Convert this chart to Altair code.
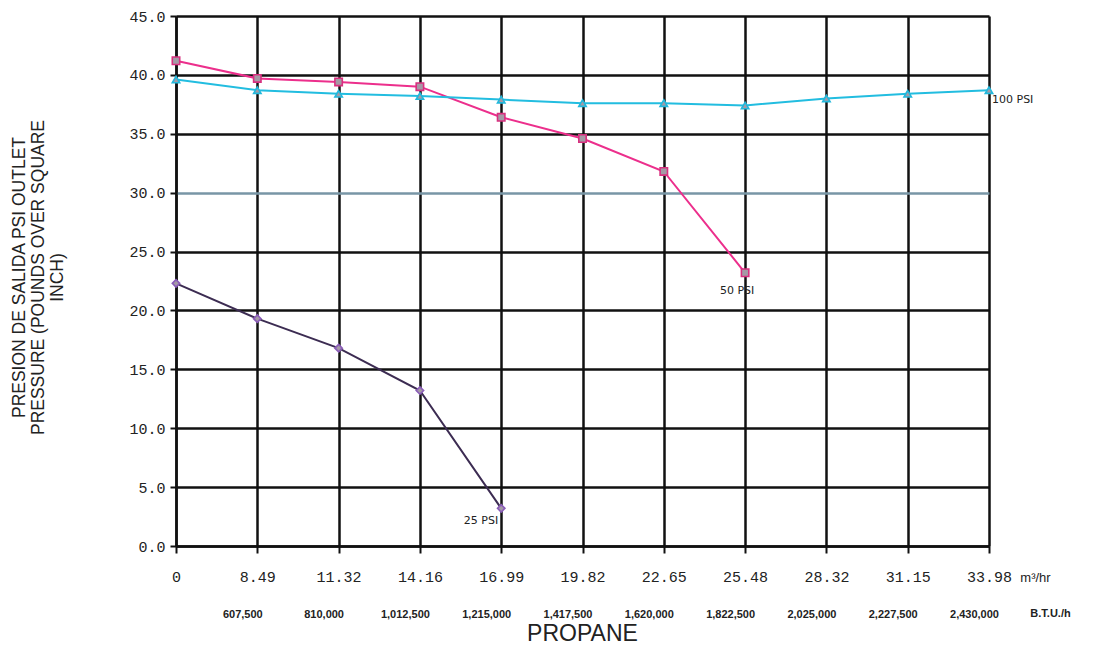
import json
import altair as alt
import pandas as pd

# ---- data ----
x_labels = ["0", "8.49", "11.32", "14.16", "16.99", "19.82", "22.65", "25.48", "28.32", "31.15", "33.98"]
btu_labels = ["", "607,500", "810,000", "1,012,500", "1,215,000", "1,417,500",
              "1,620,000", "1,822,500", "2,025,000", "2,227,500", "2,430,000"]
series_names = ["25 PSI", "50 PSI", "100 PSI"]
psi25 = [22.3, 19.3, 16.8, 13.2, 3.2]
psi50 = [41.2, 39.7, 39.4, 39.0, 36.4, 34.6, 31.8, 23.2]
psi100 = [39.6, 38.7, 38.4, 38.2, 37.9, 37.6, 37.6, 37.4, 38.0, 38.4, 38.7]
y_ticks = [0, 5, 10, 15, 20, 25, 30, 35, 40, 45]

rows = []
for name, vals in zip(series_names, [psi25, psi50, psi100]):
    for i, v in enumerate(vals):
        rows.append({"idx": i, "psi": v, "series": name, "last": i == len(vals) - 1})
df = pd.DataFrame(rows)

colors = ["#3c2c52", "#ec2f8c", "#22bde0"]
stroke_colors = ["#8a5cb8", "#d8307f", "#22b8dc"]
shapes = ["diamond", "square", "triangle-up"]

x_label_expr = json.dumps(x_labels) + "[datum.value]"
btu_label_expr = json.dumps(btu_labels) + "[datum.value]"

xscale = alt.Scale(domain=[0, 10], nice=False, zero=False)
yscale = alt.Scale(domain=[0, 45], nice=False)

y_axis = alt.Axis(
    values=y_ticks, format=".1f", grid=True,
    gridColor={"condition": {"test": "datum.value == 30", "value": "#7896a6"}, "value": "#111111"},
    gridWidth=2.5, gridOpacity=1,
    domainColor="#111111", domainWidth=2.5,
    tickColor="#111111", tickWidth=2, tickSize=6,
    labelFont="Liberation Mono", labelFontSize=15, labelColor="#222222", labelPadding=5,
    title=["PRESION DE SALIDA PSI OUTLET", "PRESSURE (POUNDS OVER SQUARE", "INCH)"],
    titleFont="Liberation Sans", titleFontSize=17.5, titleFontWeight="normal", titleColor="#222222",
    titleAngle=270, titleAlign="center", titleBaseline="middle", titleLineHeight=19,
    titleX=-157, titleY=261,
)

x_axis_main = alt.Axis(
    orient="bottom", values=list(range(11)), labelExpr=x_label_expr, grid=True,
    gridColor="#111111", gridWidth=2.5, gridOpacity=1,
    domainColor="#111111", domainWidth=2.5,
    tickColor="#111111", tickWidth=2, tickSize=7,
    labelFont="Liberation Mono", labelFontSize=15, labelColor="#222222", labelPadding=16,
    labelAngle=0, labelFlush=False,
    title="m³/hr", titleFont="Liberation Sans", titleFontSize=13, titleFontWeight="normal",
    titleColor="#222222", titleX=859, titleY=31, titleAlign="center", titleBaseline="middle",
)

x_axis_btu = alt.Axis(
    orient="bottom", values=list(range(11)), labelExpr=btu_label_expr, grid=False,
    domain=False, ticks=False,
    labelFont="Liberation Sans", labelFontSize=11, labelFontWeight="bold", labelColor="#222222",
    labelPadding=62, labelAngle=0, labelOffset=-15, labelFlush=False,
    title="B.T.U./h", titleFont="Liberation Sans", titleFontSize=11, titleFontWeight="bold",
    titleColor="#222222", titleX=874, titleY=67, titleAlign="center", titleBaseline="middle",
)

color_scale = alt.Scale(domain=series_names, range=colors)

lines = alt.Chart(df).mark_line(strokeWidth=2).encode(
    x=alt.X("idx:Q", scale=xscale, axis=x_axis_main),
    y=alt.Y("psi:Q", scale=yscale, axis=y_axis),
    color=alt.Color("series:N", scale=color_scale, legend=None),
    detail="series:N",
)

points = alt.Chart(df).mark_point(filled=True, fill="#a59aa6", strokeWidth=1.6, size=55, opacity=1).encode(
    x=alt.X("idx:Q", scale=xscale, axis=x_axis_btu),
    y=alt.Y("psi:Q", scale=yscale, axis=y_axis),
    stroke=alt.Stroke("series:N", scale=alt.Scale(domain=series_names, range=stroke_colors), legend=None),
    shape=alt.Shape("series:N", scale=alt.Scale(domain=series_names, range=shapes), legend=None),
)

def label_layer(name, align, dx, dy):
    return alt.Chart(df).transform_filter(
        (alt.datum.series == name) & alt.datum.last
    ).mark_text(
        align=align, baseline="middle", dx=dx, dy=dy,
        font="DejaVu Sans", fontSize=11, color="#222222",
    ).encode(
        x=alt.X("idx:Q", scale=xscale, axis=None),
        y=alt.Y("psi:Q", scale=yscale, axis=y_axis),
        text="series:N",
    )

labels = [
    label_layer("25 PSI", "right", -3, 13),
    label_layer("50 PSI", "center", -8, 18),
    label_layer("100 PSI", "left", 3, 10),
]

chart = alt.layer(lines, points, *labels).resolve_axis(x="independent").properties(
    width=813, height=530,
    autosize=alt.AutoSizeParams(type="none"),
    padding={"left": 168, "top": 8, "right": 104, "bottom": 102},
    title=alt.TitleParams(
        "PROPANE", orient="bottom", anchor="middle", frame="group",
        font="Liberation Sans", fontSize=23, fontWeight="normal", color="#222222", offset=4,
    ),
).configure_view(stroke=None).configure(background="white")

chart.save("out.html", embed_options={"renderer": "svg", "actions": False})
